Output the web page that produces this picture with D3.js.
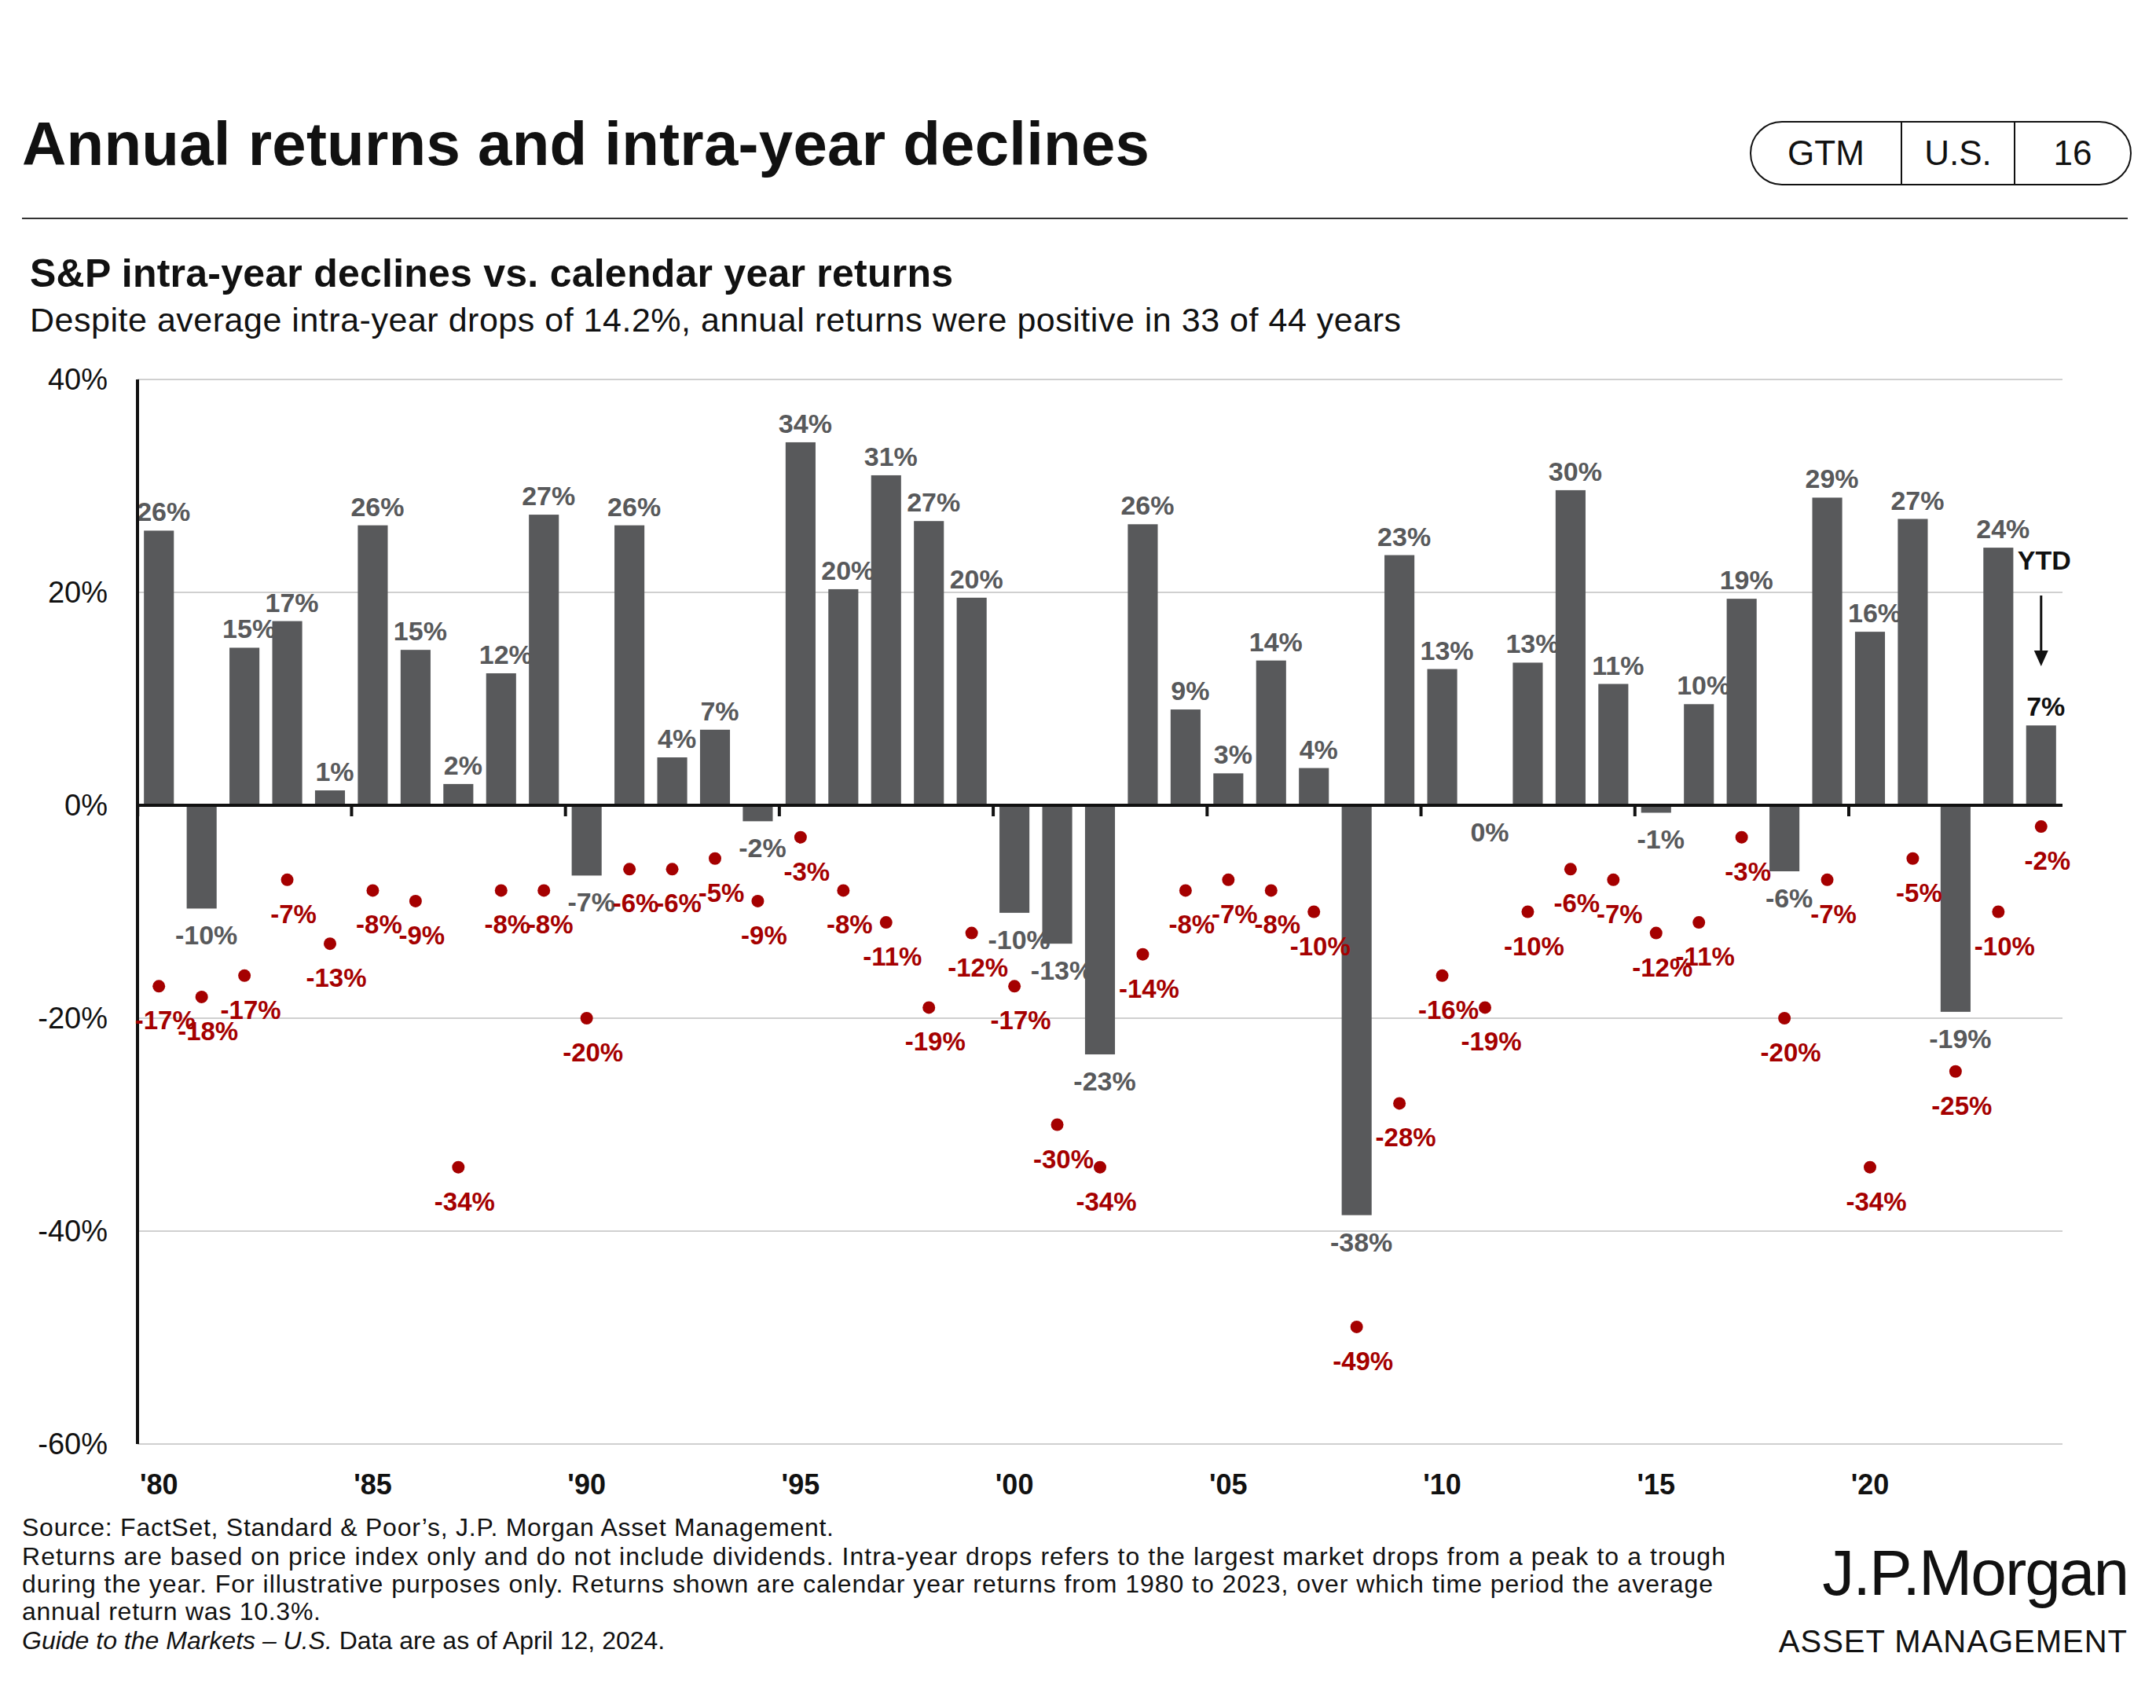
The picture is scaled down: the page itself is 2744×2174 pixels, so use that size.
<!DOCTYPE html>
<html><head><meta charset="utf-8">
<script src="https://cdn.jsdelivr.net/npm/d3@7"></script>
<style>body{margin:0;background:#fff}text{font-family:"Liberation Sans",Arial,sans-serif}</style>
</head><body>
<svg id="c" width="2744" height="2174"></svg>
<script>
const years = d3.range(1980, 2025);
const returns = [25.8,-9.7,14.8,17.3,1.4,26.3,14.6,2.0,12.4,27.3,-6.6,26.3,4.5,7.1,-1.5,34.1,20.3,31.0,26.7,19.5,-10.1,-13.0,-23.4,26.4,9.0,3.0,13.6,3.5,-38.5,23.5,12.8,0.0,13.4,29.6,11.4,-0.7,9.5,19.4,-6.2,28.9,16.3,26.9,-19.4,24.2,7.5];
const declines = [-17,-18,-16,-7,-13,-8,-9,-34,-8,-8,-20,-6,-6,-5,-9,-3,-8,-11,-19,-12,-17,-30,-34,-14,-8,-7,-8,-10,-49,-28,-16,-19,-10,-6,-7,-12,-11,-3,-20,-7,-34,-5,-25,-10,-2];
const declineLabels = [-17,-18,-17,-7,-13,-8,-9,-34,-8,-8,-20,-6,-6,-5,-9,-3,-8,-11,-19,-12,-17,-30,-34,-14,-8,-7,-8,-10,-49,-28,-16,-19,-10,-6,-7,-12,-11,-3,-20,-7,-34,-5,-25,-10,-2];
const returnLabels = [26,-10,15,17,1,26,15,2,12,27,-7,26,4,7,-2,34,20,31,27,20,-10,-13,-23,26,9,3,14,4,-38,23,13,0,13,30,11,-1,10,19,-6,29,16,27,-19,24,7];
const yTicks = [40,20,0,-20,-40,-60];
const xTickYears = [1980,1985,1990,1995,2000,2005,2010,2015,2020];

const svg = d3.select("#c");
const x = d3.scaleBand().domain(years).range([175,2625]).paddingInner(0.3).paddingOuter(0.15);
const y = d3.scaleLinear().domain([-60,40]).range([1838,483]);
const cx = d => x(d)+x.bandwidth()/2;

svg.append("text").attr("x",28).attr("y",210).attr("font-size",78).attr("font-weight","bold").attr("fill","#111").attr("textLength",1435).text("Annual returns and intra-year declines");
svg.append("line").attr("x1",28).attr("x2",2708).attr("y1",278).attr("y2",278).attr("stroke","#333").attr("stroke-width",2);
const bx=2228, bw=484, by=155, bh=80;
svg.append("rect").attr("x",bx).attr("y",by).attr("width",bw).attr("height",bh).attr("rx",40).attr("fill","none").attr("stroke","#111").attr("stroke-width",2);
[[bx+192],[bx+336]].forEach(v=>svg.append("line").attr("x1",v[0]).attr("x2",v[0]).attr("y1",by).attr("y2",by+bh).attr("stroke","#111").attr("stroke-width",2));
[["GTM",bx+96],["U.S.",bx+264],["16",bx+410]].forEach(t=>svg.append("text").attr("x",t[1]).attr("y",by+55).attr("text-anchor","middle").attr("font-size",44).attr("fill","#111").text(t[0]));

svg.append("text").attr("x",38).attr("y",365).attr("font-size",50).attr("font-weight","bold").attr("fill","#111").attr("textLength",1175).text("S&P intra-year declines vs. calendar year returns");
svg.append("text").attr("x",38).attr("y",422).attr("font-size",43).attr("fill","#111").attr("textLength",1745).text("Despite average intra-year drops of 14.2%, annual returns were positive in 33 of 44 years");

svg.append("g").selectAll("line").data(yTicks.filter(t=>t!==0)).join("line")
 .attr("x1",175).attr("x2",2625).attr("y1",d=>y(d)).attr("y2",d=>y(d)).attr("stroke","#d0d0d0").attr("stroke-width",2);
svg.append("g").selectAll("text").data(yTicks).join("text")
 .attr("x",137).attr("y",d=>y(d)+13).attr("text-anchor","end").attr("font-size",38).attr("fill","#111").text(d=>d+"%");

svg.append("g").selectAll("rect").data(years).join("rect")
 .attr("x",d=>x(d)).attr("width",x.bandwidth())
 .attr("y",(d,i)=>y(Math.max(0,returns[i]))).attr("height",(d,i)=>Math.abs(y(returns[i])-y(0)))
 .attr("fill","#58595b");
svg.append("g").selectAll("text").data(years).join("text")
 .attr("x",d=>cx(d)+6).attr("y",(d,i)=>returns[i]>0?y(returns[i])-12:y(Math.min(0,returns[i]))+46)
 .attr("text-anchor","middle").attr("font-size",34).attr("font-weight","bold")
 .attr("fill",(d,i)=>i===44?"#111":"#58595b").text((d,i)=>returnLabels[i]+"%");

svg.append("line").attr("x1",175).attr("x2",175).attr("y1",483).attr("y2",1838).attr("stroke","#111").attr("stroke-width",4);
svg.append("line").attr("x1",175).attr("x2",2625).attr("y1",y(0)).attr("y2",y(0)).attr("stroke","#111").attr("stroke-width",4);
svg.append("g").selectAll("line").data(xTickYears).join("line")
 .attr("x1",d=>cx(d)-27).attr("x2",d=>cx(d)-27).attr("y1",y(0)).attr("y2",y(0)+14).attr("stroke","#111").attr("stroke-width",4);
svg.append("g").selectAll("text").data(xTickYears).join("text")
 .attr("x",d=>cx(d)).attr("y",1902).attr("text-anchor","middle").attr("font-size",36).attr("font-weight","bold").attr("fill","#111")
 .text(d=>"'"+String(d).slice(2));

svg.append("g").selectAll("circle").data(years).join("circle")
 .attr("cx",d=>cx(d)).attr("cy",(d,i)=>y(declines[i])).attr("r",8).attr("fill","#a50000");
svg.append("g").selectAll("text").data(years).join("text")
 .attr("x",d=>cx(d)+8).attr("y",(d,i)=>y(declines[i])+55)
 .attr("text-anchor","middle").attr("font-size",33).attr("font-weight","bold").attr("fill","#a50000")
 .text((d,i)=>declineLabels[i]+"%");

const yx = cx(2024);
svg.append("text").attr("x",yx+4).attr("y",725).attr("text-anchor","middle").attr("font-size",34).attr("font-weight","bold").attr("fill","#111").text("YTD");
svg.append("line").attr("x1",yx).attr("x2",yx).attr("y1",758).attr("y2",830).attr("stroke","#111").attr("stroke-width",3);
svg.append("path").attr("d",`M${yx-9},828 L${yx+9},828 L${yx},848 Z`).attr("fill","#111");

const foot = [
 ["Source: FactSet, Standard & Poor’s, J.P. Morgan Asset Management.",1955,1033],
 ["Returns are based on price index only and do not include dividends. Intra-year drops refers to the largest market drops from a peak to a trough",1992,2168],
 ["during the year. For illustrative purposes only. Returns shown are calendar year returns from 1980 to 2023, over which time period the average",2027,2152],
 ["annual return was 10.3%.",2062,380]];
foot.forEach(f=>svg.append("text").attr("x",28).attr("y",f[1]).attr("font-size",32).attr("fill","#111").attr("textLength",f[2]).text(f[0]));
const g = svg.append("text").attr("x",28).attr("y",2099).attr("font-size",32).attr("fill","#111");
g.append("tspan").attr("font-style","italic").text("Guide to the Markets – U.S.");
g.append("tspan").text(" Data are as of April 12, 2024.");
svg.append("text").attr("x",2708).attr("y",2030).attr("text-anchor","end").attr("font-size",82).attr("font-family","Liberation Serif,serif").attr("fill","#111").attr("letter-spacing",-2).text("J.P.Morgan");
svg.append("text").attr("x",2708).attr("y",2103).attr("text-anchor","end").attr("font-size",40).attr("fill","#111").attr("letter-spacing",1).text("ASSET MANAGEMENT");
</script></body></html>
